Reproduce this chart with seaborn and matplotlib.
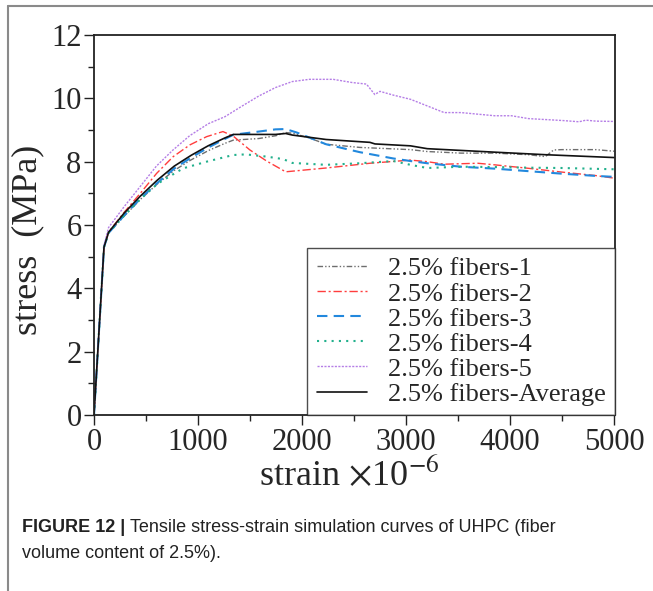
import matplotlib
matplotlib.use("Agg")
import matplotlib.pyplot as plt
import seaborn as sns
import numpy as np
import pandas as pd
from matplotlib.lines import Line2D
from matplotlib.ticker import MultipleLocator

# ---- data (strain x1e-6, stress MPa) ----
labels = ["2.5% fibers-1", "2.5% fibers-2", "2.5% fibers-3",
          "2.5% fibers-4", "2.5% fibers-5", "2.5% fibers-Average"]

strain_1 = [0, 96, 140, 290, 450, 610, 770, 930, 1100, 1260, 1340, 1583, 1750, 1843, 1907,
            2070, 2232, 2556, 3043, 3205, 3529, 3853, 4178, 4340, 4420, 4502, 4826, 5000]
stress_1 = [0, 5.3, 5.75, 6.28, 6.82, 7.3, 7.72, 8.05, 8.35, 8.58, 8.68, 8.73, 8.82, 8.92, 8.9,
            8.75, 8.55, 8.45, 8.38, 8.32, 8.27, 8.27, 8.22, 8.16, 8.37, 8.38, 8.38, 8.33]

strain_2 = [0, 96, 140, 290, 450, 602, 762, 922, 1083, 1210, 1240, 1338, 1499, 1660, 1843,
            2232, 2653, 3043, 3205, 3367, 3690, 3853, 4178, 4502, 4826, 5000]
stress_2 = [0, 5.3, 5.78, 6.4, 7.02, 7.63, 8.16, 8.53, 8.79, 8.92, 8.95, 8.81, 8.37, 8.02, 7.68,
            7.8, 7.95, 8.05, 8.0, 7.92, 7.95, 7.9, 7.79, 7.67, 7.56, 7.48]

strain_3 = [0, 96, 140, 290, 450, 610, 770, 930, 1100, 1260, 1340, 1583, 1745, 1843, 1950,
            2232, 2556, 2880, 3043, 3205, 3529, 3853, 4178, 4502, 4826, 5000]
stress_3 = [0, 5.3, 5.75, 6.3, 6.85, 7.33, 7.78, 8.12, 8.45, 8.72, 8.85, 8.95, 9.02, 9.03, 8.92,
            8.55, 8.3, 8.1, 8.02, 7.95, 7.84, 7.78, 7.7, 7.62, 7.55, 7.52]

strain_4 = [0, 96, 140, 290, 450, 610, 760, 858, 1083, 1338, 1460, 1660, 1820, 1907, 2232,
            2556, 2880, 3043, 3205, 3529, 3853, 4178, 4502, 5000]
stress_4 = [0, 5.3, 5.75, 6.3, 6.83, 7.3, 7.6, 7.79, 8.0, 8.21, 8.23, 8.16, 8.08, 7.96, 7.9,
            7.95, 8.02, 7.9, 7.8, 7.84, 7.83, 7.81, 7.8, 7.76]

strain_5 = [0, 96, 140, 290, 450, 600, 760, 920, 1100, 1259, 1421, 1583, 1745, 1907, 2070,
            2300, 2480, 2620, 2700, 2750, 2880, 3043, 3205, 3367, 3529, 3690, 3853, 4015,
            4178, 4340, 4502, 4664, 4730, 4826, 5000]
stress_5 = [0, 5.35, 5.92, 6.58, 7.24, 7.86, 8.37, 8.82, 9.2, 9.42, 9.75, 10.07, 10.34, 10.53, 10.6,
            10.6, 10.5, 10.45, 10.12, 10.22, 10.1, 9.97, 9.76, 9.55, 9.55, 9.5, 9.45, 9.45,
            9.36, 9.33, 9.3, 9.26, 9.31, 9.28, 9.27]

strain_avg = [0, 96, 140, 286, 448, 610, 772, 934, 1097, 1259, 1340, 1745, 1843, 1907, 2232,
              2653, 2702, 3043, 3205, 3853, 4340, 5000]
stress_avg = [0, 5.3, 5.77, 6.36, 6.92, 7.42, 7.86, 8.2, 8.5, 8.75, 8.86, 8.86, 8.89, 8.84, 8.7,
              8.61, 8.56, 8.5, 8.41, 8.3, 8.22, 8.13]

x_ticks = [0, 1000, 2000, 3000, 4000, 5000]
y_ticks = [0, 2, 4, 6, 8, 10, 12]

series_x = [strain_1, strain_2, strain_3, strain_4, strain_5, strain_avg]
series_y = [stress_1, stress_2, stress_3, stress_4, stress_5, stress_avg]

colors = ["#6e6e6e", "#ff3d3d", "#2288dd", "#22b08c", "#b57ee6", "#111111"]
styles = [(0, (4, 1.5, 1, 1.5, 1, 1.5)), (0, (6, 2, 1.5, 2)), (0, (5, 3)),
          (0, (1, 2.5)), (0, (1.5, 1)), "-"]
widths = [1.0, 1.0, 1.5, 1.5, 1.0, 1.2]

sns.set_style("ticks")
plt.rcParams["font.family"] = ["Liberation Serif", "DejaVu Serif"]
plt.rcParams["mathtext.fontset"] = "stix"

fig = plt.figure(figsize=(6.53, 5.91), dpi=100)
ax = fig.add_axes([94 / 653, 1 - 415 / 591, (615 - 94) / 653, (415 - 35) / 591])

for sx, sy, lab, c, ls, lw in zip(series_x, series_y, labels, colors, styles, widths):
    df = pd.DataFrame({"strain": sx, "stress": sy})
    sns.lineplot(data=df, x="strain", y="stress", ax=ax, sort=False, estimator=None,
                 color=c, linestyle=ls, linewidth=lw, label=lab)

ax.set_xlim(0, 5010)
ax.set_ylim(0, 12)
ax.set_xticks(x_ticks)
ax.set_yticks(y_ticks)
ax.xaxis.set_minor_locator(MultipleLocator(500))
ax.yaxis.set_minor_locator(MultipleLocator(1))
ax.tick_params(axis="both", which="major", direction="out", length=7, width=1,
               labelsize=22, color="#222222", pad=2)
ax.tick_params(axis="both", which="minor", direction="out", length=4, width=1, color="#222222")
for sp in ax.spines.values():
    sp.set_linewidth(1.3)
    sp.set_color("#222222")
    sp.set_visible(True)

ax.set_xlabel(r"strain $\times$10$^{-6}$", fontsize=26)
ax.set_ylabel("stress  (MPa)", fontsize=26)
ax.xaxis.set_label_coords(0.49, -0.11)
ax.yaxis.set_label_coords(-0.095, 0.46)

leg = ax.legend(loc="lower right", fontsize=19, frameon=True, fancybox=False,
                edgecolor="#222222", borderaxespad=0, handlelength=1.9,
                labelspacing=0.06, handletextpad=0.8, borderpad=0.35)
leg.get_frame().set_linewidth(1.0)

# outer frame lines
fig.add_artist(Line2D([8 / 653, 1], [1 - 6 / 591, 1 - 6 / 591], color="#8a8a8a", lw=1.5,
                      transform=fig.transFigure))
fig.add_artist(Line2D([8 / 653, 8 / 653], [0, 1 - 6 / 591], color="#8a8a8a", lw=1.5,
                      transform=fig.transFigure))

# caption
cap_font = ["Liberation Sans Narrow", "Liberation Sans", "DejaVu Sans"]
t1 = fig.text(22 / 653, 1 - 527 / 591, "FIGURE 12 |", fontsize=13, fontweight="bold",
              family=cap_font, color="#222222", va="center", ha="left")
fig.canvas.draw()
bb = t1.get_window_extent(renderer=fig.canvas.get_renderer())
fig.text((bb.x1 + 5) / fig.bbox.width, 1 - 527 / 591,
         "Tensile stress-strain simulation curves of UHPC (fiber",
         fontsize=13, family=cap_font, color="#222222", va="center", ha="left")
fig.text(22 / 653, 1 - 553 / 591, "volume content of 2.5%).", fontsize=13,
         family=cap_font, color="#222222", va="center", ha="left")

fig.savefig("out.png", dpi=100)
